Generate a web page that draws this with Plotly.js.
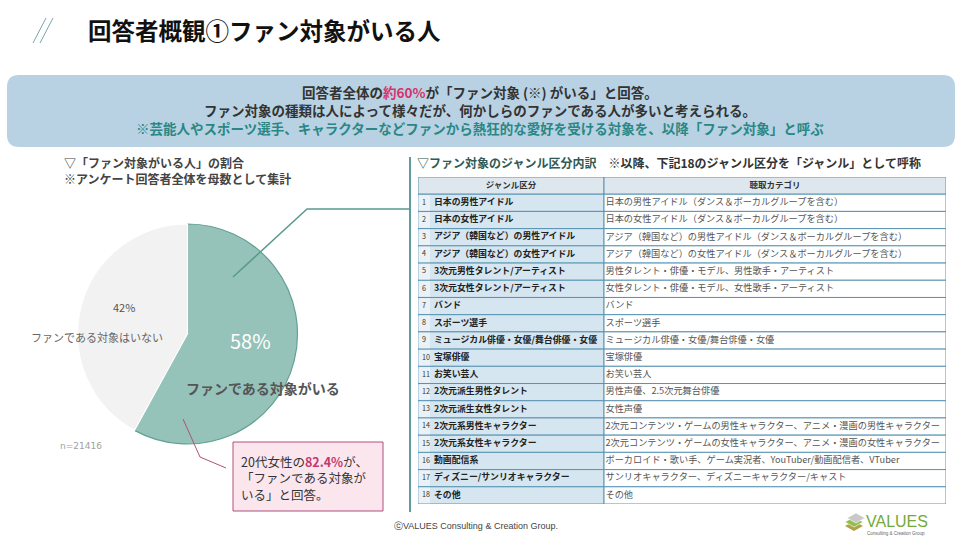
<!DOCTYPE html>
<html>
<head>
<meta charset="utf-8">
<script src="https://cdn.plot.ly/plotly-3.0.1.min.js"></script>
<style>
  html, body { margin: 0; padding: 0; background: #fff; }
  #slide { width: 960px; height: 540px; }
</style>
</head>
<body>
<div id="slide"></div>
<script>
// pie data
var pieLabels = ['ファンである対象がいる', 'ファンである対象はいない'];
var pieValues = [58, 42];
var pieColors = ['#95c3ba', '#f2f2f2'];
var sampleSize = 21416;

// table data
var rowNumbers = ['1', '2', '3', '4', '5', '6', '7', '8', '9', '10', '11', '12', '13', '14', '15', '16', '17', '18'];
var genreNames = [
	'日本の男性アイドル',
	'日本の女性アイドル',
	'アジア（韓国など）の男性アイドル',
	'アジア（韓国など）の女性アイドル',
	'3次元男性タレント/アーティスト',
	'3次元女性タレント/アーティスト',
	'バンド',
	'スポーツ選手',
	'ミュージカル俳優・女優/舞台俳優・女優',
	'宝塚俳優',
	'お笑い芸人',
	'2次元派生男性タレント',
	'2次元派生女性タレント',
	'2次元系男性キャラクター',
	'2次元系女性キャラクター',
	'動画配信系',
	'ディズニー/サンリオキャラクター',
	'その他'
];
var categoryNames = [
	'日本の男性アイドル（ダンス＆ボーカルグループを含む）',
	'日本の女性アイドル（ダンス＆ボーカルグループを含む）',
	'アジア（韓国など）の男性アイドル（ダンス＆ボーカルグループを含む）',
	'アジア（韓国など）の女性アイドル（ダンス＆ボーカルグループを含む）',
	'男性タレント・俳優・モデル、男性歌手・アーティスト',
	'女性タレント・俳優・モデル、女性歌手・アーティスト',
	'バンド',
	'スポーツ選手',
	'ミュージカル俳優・女優/舞台俳優・女優',
	'宝塚俳優',
	'お笑い芸人',
	'男性声優、2.5次元舞台俳優',
	'女性声優',
	'2次元コンテンツ・ゲームの男性キャラクター、アニメ・漫画の男性キャラクター',
	'2次元コンテンツ・ゲームの女性キャラクター、アニメ・漫画の女性キャラクター',
	'ボーカロイド・歌い手、ゲーム実況者、YouTuber/動画配信者、VTuber',
	'サンリオキャラクター、ディズニーキャラクター/キャスト',
	'その他'
];
var tableHeader = ['ジャンル区分', '聴取カテゴリ'];

// pixel -> paper helpers
var W = 960, H = 540;
function X(p) { return p / W; }
function Y(p) { return 1 - p / H; }

var JP = 'Noto Sans CJK JP';
var GRID = '#5a94b3';

// table columns (x axis runs in pixels of the slide)
var tLeft = 418, tNum = 430, tMid = 604, tRight = 946;
var rowPos = rowNumbers.map(function (r, i) { return i + 1; });   // header sits on row 0
function same(v) { return rowPos.map(function () { return v; }); }

var pie = {
	type: 'pie',
	labels: pieLabels,
	values: pieValues,
	marker: { colors: pieColors, line: { color: ['#63a093', '#ffffff'], width: 1.2 } },
	direction: 'clockwise',
	sort: false,
	rotation: 0,
	textinfo: 'none',
	hoverinfo: 'none',
	domain: { x: [X(77.5), X(297.5)], y: [Y(444), Y(224)] }
};

var headerCells = {
	type: 'bar', orientation: 'h', hoverinfo: 'none',
	y: [0, 0], base: [tLeft, tMid], x: [tMid - tLeft, tRight - tMid], width: [1, 1],
	marker: { color: '#dfe7ee', line: { color: GRID, width: 1 } }
};
var genreCells = {
	type: 'bar', orientation: 'h', hoverinfo: 'none',
	y: rowPos, base: same(tLeft), x: same(tMid - tLeft), width: same(1),
	marker: { color: '#d6e6f1', line: { color: GRID, width: 1 } }
};
var numberCells = {
	type: 'bar', orientation: 'h', hoverinfo: 'none',
	y: rowPos, base: same(tLeft + 0.6), x: same(tNum - tLeft - 0.6), width: same(0.9),
	marker: { color: '#eaf2f8', line: { width: 0 } }
};
var categoryCells = {
	type: 'bar', orientation: 'h', hoverinfo: 'none',
	y: rowPos, base: same(tMid), x: same(tRight - tMid), width: same(1),
	marker: { color: '#ffffff', line: { color: GRID, width: 1 } }
};

var headerText = {
	type: 'scatter', mode: 'text', hoverinfo: 'none', cliponaxis: false,
	x: [(tLeft + tMid) / 2, (tMid + tRight) / 2], y: [0, 0],
	text: tableHeader.map(function (s) { return '<b>' + s + '</b>'; }),
	textposition: 'middle center',
	textfont: { family: JP, size: 8.5, color: '#333' }
};
var numberText = {
	type: 'scatter', mode: 'text', hoverinfo: 'none', cliponaxis: false,
	x: same(tLeft + 4), y: rowPos, text: rowNumbers,
	textposition: 'middle right',
	textfont: { family: JP, size: 7.2, color: '#333' }
};
var genreText = {
	type: 'scatter', mode: 'text', hoverinfo: 'none', cliponaxis: false,
	x: same(tNum + 4), y: rowPos,
	text: genreNames.map(function (s) { return '<b>' + s + '</b>'; }),
	textposition: 'middle right',
	textfont: { family: JP, size: 8.9, color: '#222' }
};
var categoryText = {
	type: 'scatter', mode: 'text', hoverinfo: 'none', cliponaxis: false,
	x: same(tMid + 1.5), y: rowPos, text: categoryNames,
	textposition: 'middle right',
	textfont: { family: JP, size: 9.2, color: '#555' }
};

function roundRect(x0, y0, x1, y1, r) {
	return 'M' + X(x0 + r) + ',' + Y(y0) +
		' L' + X(x1 - r) + ',' + Y(y0) +
		' Q' + X(x1) + ',' + Y(y0) + ' ' + X(x1) + ',' + Y(y0 + r) +
		' L' + X(x1) + ',' + Y(y1 - r) +
		' Q' + X(x1) + ',' + Y(y1) + ' ' + X(x1 - r) + ',' + Y(y1) +
		' L' + X(x0 + r) + ',' + Y(y1) +
		' Q' + X(x0) + ',' + Y(y1) + ' ' + X(x0) + ',' + Y(y1 - r) +
		' L' + X(x0) + ',' + Y(y0 + r) +
		' Q' + X(x0) + ',' + Y(y0) + ' ' + X(x0 + r) + ',' + Y(y0) + ' Z';
}
function pathOf(pts, close) {
	return pts.map(function (p, i) { return (i ? 'L' : 'M') + X(p[0]) + ',' + Y(p[1]); }).join(' ') + (close ? ' Z' : '');
}

var shapes = [
	// title slashes
	{ type: 'line', xref: 'paper', yref: 'paper', x0: X(33), y0: Y(43), x1: X(46), y1: Y(18), line: { color: '#7aa6a6', width: 1 } },
	{ type: 'line', xref: 'paper', yref: 'paper', x0: X(40), y0: Y(43), x1: X(53), y1: Y(18), line: { color: '#7aa6a6', width: 1 } },
	// summary banner
	{ type: 'path', xref: 'paper', yref: 'paper', path: roundRect(7, 75, 955, 147, 12), fillcolor: '#b8d2e3', line: { width: 0 }, layer: 'below' },
	// divider
	{ type: 'line', xref: 'paper', yref: 'paper', x0: X(410), y0: Y(157), x1: X(410), y1: Y(512), line: { color: '#5f9c9c', width: 2 } },
	// connector from pie to table
	{ type: 'path', xref: 'paper', yref: 'paper', path: pathOf([[233, 277], [307, 209], [410, 209]]), line: { color: '#5a9a8e', width: 1.5 } },
	// callout box
	{ type: 'rect', xref: 'paper', yref: 'paper', x0: X(233), y0: Y(442), x1: X(383), y1: Y(511), fillcolor: '#fbe6ee', line: { color: '#b0507a', width: 1 } },
	{ type: 'path', xref: 'paper', yref: 'paper', path: pathOf([[183, 419], [200, 457], [226, 468]]), line: { color: '#b0507a', width: 1 } },
	// logo icon layers
	{ type: 'path', xref: 'paper', yref: 'paper', path: pathOf([[845, 526], [854, 521], [863, 526], [854, 531]], true), fillcolor: '#b2a24a', line: { width: 0 } },
	{ type: 'path', xref: 'paper', yref: 'paper', path: pathOf([[845, 522], [854, 517], [863, 522], [854, 527]], true), fillcolor: '#8fc04a', line: { color: '#ffffff', width: 0.6 } },
	{ type: 'path', xref: 'paper', yref: 'paper', path: pathOf([[847, 518], [856, 513], [865, 518], [856, 523]], true), fillcolor: '#c9c9c9', line: { color: '#ffffff', width: 0.6 } }
];

function note(text, x, y, size, color, anchor, family) {
	return {
		xref: 'paper', yref: 'paper', x: X(x), y: Y(y), text: text,
		showarrow: false, xanchor: anchor || 'left', yanchor: 'middle', align: 'left',
		font: { family: family || JP, size: size, color: color }
	};
}

var annotations = [
	note('<b>回答者概観①ファン対象がいる人</b>', 86, 30, 23.5, '#111'),
	note('<b>回答者全体の<span style="color:#d6336c">約60%</span>が「ファン対象 (※) がいる」と回答。</b>', 480, 92, 13.5, '#333', 'center'),
	note('<b>ファン対象の種類は人によって様々だが、何かしらのファンである人が多いと考えられる。</b>', 480, 110, 13.5, '#333', 'center'),
	note('<b>※芸能人やスポーツ選手、キャラクターなどファンから熱狂的な愛好を受ける対象を、以降「ファン対象」と呼ぶ</b>', 480, 128, 13.5, '#2a8785', 'center'),
	note('<b>▽「ファン対象がいる人」の割合</b>', 62, 163, 12, '#444'),
	note('<b>※アンケート回答者全体を母数として集計</b>', 62, 178, 12, '#444'),
	note('<b><span style="color:#2f5a55">▽ファン対象のジャンル区分内訳</span>　※以降、下記18のジャンル区分を「ジャンル」として呼称</b>', 415, 163, 12, '#333'),
	// pie labels
	note(pieValues[0] + '%', 250, 340, 20, '#ffffff', 'center'),
	note('<b>' + pieLabels[0] + '</b>', 263, 388, 14, '#555', 'center'),
	note(pieValues[1] + '%', 124, 307, 11, '#555', 'center'),
	note(pieLabels[1], 97, 337, 11, '#666', 'center'),
	note('n=' + sampleSize, 81, 446, 9, '#a0a0a0', 'center', 'DejaVu Sans'),
	// callout text
	note('20代女性の<b><span style="color:#c23a6e">82.4%</span></b>が、<br>「ファンである対象が<br>いる」と回答。', 239, 478, 12.5, '#333'),
	// footer
	note('ⓒVALUES Consulting &amp; Creation Group.', 476, 526, 9, '#444', 'center', 'Liberation Sans'),
	note('VALUES', 864, 521, 16, '#74aa3a', 'left', 'Liberation Sans'),
	note('Consulting &amp; Creation Group', 896, 533, 4.5, '#666', 'center', 'Liberation Sans')
];

var layout = {
	width: W,
	height: H,
	margin: { l: 0, r: 0, t: 0, b: 0 },
	paper_bgcolor: '#ffffff',
	plot_bgcolor: 'rgba(0,0,0,0)',
	showlegend: false,
	barmode: 'overlay',
	font: { family: JP },
	xaxis: { domain: [X(tLeft), X(tRight)], range: [tLeft, tRight], visible: false, fixedrange: true },
	yaxis: { domain: [Y(504), Y(177)], range: [18.5, -0.5], visible: false, fixedrange: true },
	shapes: shapes,
	annotations: annotations
};

Plotly.newPlot('slide', [pie, headerCells, genreCells, categoryCells, numberCells, headerText, numberText, genreText, categoryText], layout, { displayModeBar: false, staticPlot: true });
</script>
</body>
</html>
